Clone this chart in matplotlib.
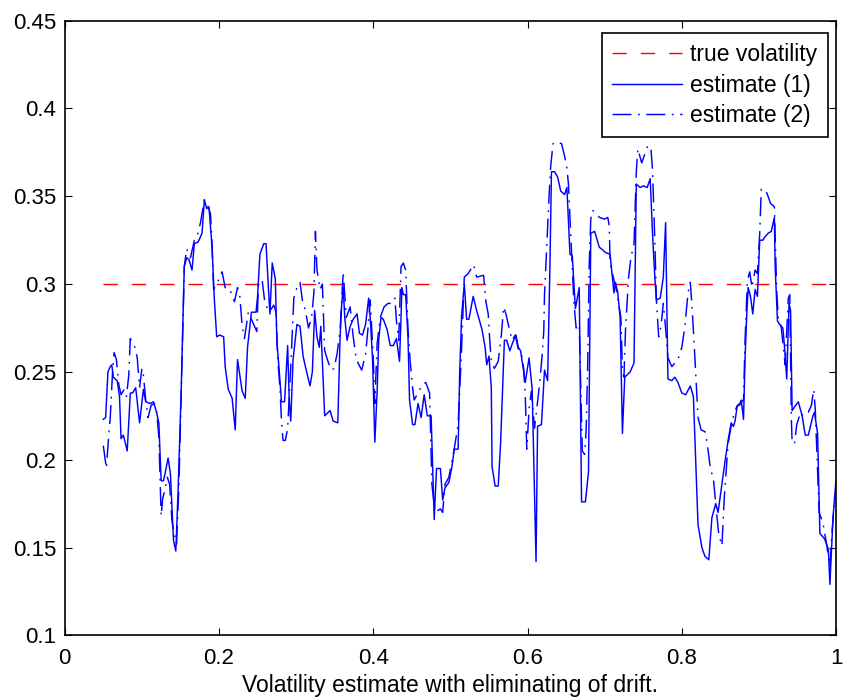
import matplotlib
matplotlib.use("Agg")
import matplotlib.pyplot as plt

# Volatility estimates over time (drift eliminated)
true_vol = 0.3
true_t = [0.05, 1.0]

t1 = [0.050, 0.053, 0.056, 0.059, 0.061, 0.063, 0.068, 0.071, 0.073, 0.076,
      0.081, 0.085, 0.088, 0.092, 0.097, 0.102, 0.105, 0.111, 0.115, 0.119,
      0.122, 0.125, 0.128, 0.130, 0.134, 0.137, 0.141, 0.144, 0.147, 0.151,
      0.155, 0.158, 0.161, 0.165, 0.168, 0.173, 0.178, 0.181, 0.184, 0.187,
      0.191, 0.194, 0.197, 0.201, 0.206, 0.208, 0.212, 0.217, 0.221, 0.224,
      0.230, 0.234, 0.237, 0.242, 0.248, 0.250, 0.253, 0.258, 0.261, 0.264,
      0.266, 0.269, 0.273, 0.275, 0.278, 0.281, 0.285, 0.289, 0.291, 0.293,
      0.296, 0.301, 0.305, 0.309, 0.312, 0.318, 0.321, 0.324, 0.327, 0.330,
      0.332, 0.337, 0.344, 0.348, 0.354, 0.357, 0.359, 0.361, 0.363, 0.366,
      0.370, 0.374, 0.379, 0.382, 0.386, 0.390, 0.394, 0.396, 0.399, 0.402,
      0.405, 0.407, 0.410, 0.413, 0.418, 0.422, 0.426, 0.430, 0.434, 0.436,
      0.437, 0.439, 0.442, 0.445, 0.447, 0.451, 0.454, 0.458, 0.462, 0.466,
      0.470, 0.475, 0.477, 0.479, 0.482, 0.487, 0.490, 0.493, 0.498, 0.502,
      0.505, 0.510, 0.512, 0.5145, 0.518, 0.521, 0.524, 0.5295, 0.534, 0.541,
      0.545, 0.547, 0.550, 0.553, 0.554, 0.558, 0.562, 0.565, 0.570, 0.573,
      0.577, 0.581, 0.585, 0.588, 0.591, 0.594, 0.597, 0.602, 0.606, 0.609,
      0.611, 0.613, 0.618, 0.622, 0.626, 0.629, 0.631, 0.635, 0.639, 0.643,
      0.648, 0.651, 0.655, 0.658, 0.662, 0.667, 0.670, 0.675, 0.679, 0.682,
      0.687, 0.693, 0.696, 0.701, 0.707, 0.710, 0.712, 0.714, 0.717, 0.720,
      0.723, 0.726, 0.733, 0.738, 0.741, 0.746, 0.750, 0.755, 0.759, 0.762,
      0.765, 0.767, 0.772, 0.776, 0.779, 0.782, 0.787, 0.791, 0.795, 0.800,
      0.805, 0.811, 0.815, 0.821, 0.826, 0.830, 0.835, 0.839, 0.844, 0.847,
      0.852, 0.856, 0.860, 0.864, 0.867, 0.869, 0.872, 0.875, 0.877, 0.880,
      0.882, 0.884, 0.886, 0.889, 0.892, 0.895, 0.898, 0.901, 0.905, 0.908,
      0.912, 0.916, 0.920, 0.921, 0.924, 0.927, 0.931, 0.933, 0.936, 0.939,
      0.941, 0.943, 0.946, 0.951, 0.956, 0.960, 0.964, 0.970, 0.972, 0.976,
      0.979, 0.985, 0.990, 0.992, 0.994, 0.996, 0.998, 1.000]
est1 = [0.223, 0.224, 0.250, 0.253, 0.254, 0.247, 0.245, 0.236, 0.212, 0.214,
        0.205, 0.238, 0.238, 0.241, 0.221, 0.240, 0.233, 0.232, 0.233, 0.227,
        0.221, 0.188, 0.188, 0.192, 0.201, 0.192, 0.154, 0.148, 0.183, 0.240,
        0.310, 0.315, 0.314, 0.308, 0.323, 0.324, 0.329, 0.348, 0.343, 0.344,
        0.321, 0.291, 0.270, 0.271, 0.270, 0.253, 0.240, 0.235, 0.217, 0.257,
        0.239, 0.235, 0.264, 0.284, 0.284, 0.293, 0.317, 0.323, 0.323, 0.298,
        0.283, 0.312, 0.303, 0.268, 0.251, 0.233, 0.233, 0.265, 0.234, 0.222,
        0.257, 0.277, 0.276, 0.259, 0.253, 0.242, 0.250, 0.285, 0.270, 0.264,
        0.276, 0.225, 0.228, 0.222, 0.221, 0.270, 0.288, 0.298, 0.281, 0.268,
        0.276, 0.280, 0.283, 0.272, 0.271, 0.277, 0.292, 0.281, 0.258, 0.210,
        0.239, 0.268, 0.281, 0.280, 0.274, 0.265, 0.265, 0.269, 0.256, 0.281,
        0.298, 0.294, 0.294, 0.270, 0.234, 0.220, 0.220, 0.232, 0.224, 0.237,
        0.225, 0.225, 0.196, 0.166, 0.195, 0.195, 0.177, 0.184, 0.187, 0.196,
        0.206, 0.206, 0.249, 0.282, 0.300, 0.280, 0.280, 0.293, 0.285, 0.274,
        0.264, 0.254, 0.259, 0.241, 0.196, 0.185, 0.185, 0.209, 0.268, 0.268,
        0.262, 0.267, 0.271, 0.264, 0.262, 0.253, 0.244, 0.258, 0.240, 0.180,
        0.142, 0.219, 0.220, 0.251, 0.245, 0.310, 0.364, 0.364, 0.361, 0.353,
        0.351, 0.355, 0.317, 0.316, 0.286, 0.298, 0.176, 0.176, 0.193, 0.329,
        0.330, 0.321, 0.320, 0.318, 0.317, 0.304, 0.295, 0.301, 0.295, 0.281,
        0.215, 0.247, 0.250, 0.255, 0.357, 0.355, 0.356, 0.355, 0.360, 0.329,
        0.304, 0.291, 0.292, 0.304, 0.335, 0.246, 0.245, 0.247, 0.244, 0.238,
        0.237, 0.242, 0.236, 0.163, 0.150, 0.145, 0.143, 0.167, 0.175, 0.170,
        0.186, 0.199, 0.211, 0.221, 0.219, 0.222, 0.231, 0.231, 0.234, 0.223,
        0.258, 0.281, 0.298, 0.293, 0.283, 0.297, 0.293, 0.325, 0.325, 0.327,
        0.329, 0.330, 0.338, 0.310, 0.279, 0.277, 0.275, 0.265, 0.246, 0.289,
        0.285, 0.228, 0.230, 0.233, 0.225, 0.214, 0.214, 0.225, 0.227, 0.215,
        0.158, 0.155, 0.149, 0.129, 0.148, 0.167, 0.178, 0.178]

t2 = [0.050, 0.054, 0.057, 0.059, 0.062, 0.064, 0.067, 0.070, 0.073, 0.077,
      0.080, 0.083, 0.085, 0.088, 0.091, 0.094, 0.097, 0.100, 0.102, 0.105,
      0.108, 0.112, 0.116, 0.119, 0.122, 0.125, 0.127, 0.130, 0.133, 0.136,
      0.139, 0.142, 0.145, 0.148, 0.152, 0.155, 0.158, 0.163, 0.168, 0.172,
      0.176, 0.181, 0.185, 0.189, 0.191, 0.193, 0.199, 0.204, 0.208, 0.211,
      0.214, 0.220, 0.224, 0.227, 0.230, 0.233, 0.238, 0.243, 0.249, 0.251,
      0.256, 0.259, 0.264, 0.268, 0.271, 0.274, 0.276, 0.279, 0.281, 0.283,
      0.286, 0.289, 0.291, 0.293, 0.297, 0.301, 0.305, 0.308, 0.312, 0.316,
      0.320, 0.323, 0.325, 0.327, 0.331, 0.334, 0.337, 0.342, 0.346, 0.349,
      0.353, 0.357, 0.361, 0.365, 0.370, 0.374, 0.378, 0.385, 0.390, 0.393,
      0.396, 0.400, 0.402, 0.405, 0.409, 0.414, 0.419, 0.425, 0.428, 0.430,
      0.433, 0.436, 0.439, 0.442, 0.445, 0.448, 0.451, 0.453, 0.458, 0.464,
      0.468, 0.473, 0.476, 0.480, 0.487, 0.490, 0.493, 0.498, 0.502, 0.506,
      0.510, 0.514, 0.518, 0.523, 0.530, 0.534, 0.543, 0.546, 0.549, 0.551,
      0.553, 0.557, 0.562, 0.566, 0.569, 0.572, 0.575, 0.580, 0.584, 0.588,
      0.592, 0.595, 0.597, 0.599, 0.602, 0.605, 0.609, 0.613, 0.616, 0.619,
      0.621, 0.622, 0.624, 0.626, 0.628, 0.630, 0.633, 0.638, 0.644, 0.648,
      0.651, 0.653, 0.657, 0.660, 0.663, 0.667, 0.671, 0.674, 0.676, 0.678,
      0.680, 0.682, 0.684, 0.688, 0.693, 0.700, 0.704, 0.706, 0.707, 0.710,
      0.715, 0.721, 0.723, 0.725, 0.727, 0.730, 0.731, 0.734, 0.738, 0.741,
      0.743, 0.748, 0.752, 0.756, 0.760, 0.762, 0.765, 0.767, 0.770, 0.773,
      0.776, 0.778, 0.782, 0.787, 0.791, 0.795, 0.800, 0.804, 0.808, 0.811,
      0.813, 0.816, 0.819, 0.821, 0.825, 0.830, 0.833, 0.837, 0.841, 0.845,
      0.848, 0.852, 0.855, 0.860, 0.865, 0.871, 0.875, 0.880, 0.882, 0.885,
      0.888, 0.891, 0.895, 0.898, 0.901, 0.902, 0.903, 0.908, 0.911, 0.915,
      0.920, 0.923, 0.925, 0.929, 0.934, 0.938, 0.940, 0.942, 0.943, 0.946,
      0.949, 0.954, 0.957, 0.964, 0.968, 0.971, 0.973, 0.978, 0.983, 0.988,
      0.992, 0.994, 0.998, 1.000]
est2 = [0.208, 0.195, 0.214, 0.224, 0.250, 0.261, 0.257, 0.243, 0.237, 0.240,
        0.236, 0.248, 0.269, 0.266, 0.264, 0.258, 0.241, 0.252, 0.248, 0.234,
        0.224, 0.231, 0.232, 0.228, 0.213, 0.168, 0.178, 0.183, 0.190, 0.186,
        0.165, 0.158, 0.152, 0.185, 0.255, 0.310, 0.320, 0.315, 0.325, 0.328,
        0.335, 0.348, 0.345, 0.340, 0.322, 0.297, 0.302, 0.307, 0.298, 0.298,
        0.297, 0.290, 0.298, 0.293, 0.276, 0.269, 0.284, 0.279, 0.273, 0.299,
        0.302, 0.291, 0.284, 0.286, 0.288, 0.284, 0.258, 0.241, 0.222, 0.211,
        0.211, 0.218, 0.236, 0.253, 0.292, 0.298, 0.301, 0.291, 0.285, 0.275,
        0.281, 0.295, 0.330, 0.308, 0.297, 0.300, 0.262, 0.255, 0.251, 0.252,
        0.260, 0.274, 0.307, 0.281, 0.287, 0.270, 0.257, 0.251, 0.260, 0.274,
        0.291, 0.258, 0.232, 0.266, 0.281, 0.287, 0.289, 0.289, 0.292, 0.279,
        0.268, 0.310, 0.312, 0.308, 0.274, 0.255, 0.241, 0.234, 0.238, 0.243,
        0.244, 0.238, 0.186, 0.170, 0.172, 0.170, 0.186, 0.190, 0.199, 0.209,
        0.220, 0.258, 0.304, 0.306, 0.311, 0.304, 0.305, 0.290, 0.283, 0.268,
        0.256, 0.252, 0.256, 0.271, 0.287, 0.283, 0.277, 0.268, 0.271, 0.263,
        0.260, 0.252, 0.237, 0.206, 0.229, 0.239, 0.218, 0.233, 0.245, 0.260,
        0.273, 0.294, 0.313, 0.332, 0.351, 0.367, 0.380, 0.381, 0.380, 0.373,
        0.366, 0.357, 0.319, 0.290, 0.275, 0.277, 0.205, 0.203, 0.217, 0.255,
        0.312, 0.337, 0.342, 0.341, 0.338, 0.337, 0.338, 0.333, 0.312, 0.306,
        0.297, 0.281, 0.251, 0.247, 0.274, 0.297, 0.304, 0.315, 0.323, 0.364,
        0.377, 0.369, 0.374, 0.379, 0.377, 0.365, 0.325, 0.291, 0.270, 0.276,
        0.289, 0.280, 0.258, 0.253, 0.255, 0.257, 0.264, 0.276, 0.295, 0.301,
        0.289, 0.266, 0.241, 0.224, 0.217, 0.216, 0.209, 0.195, 0.189, 0.170,
        0.157, 0.151, 0.178, 0.209, 0.222, 0.230, 0.232, 0.234, 0.268, 0.302,
        0.307, 0.298, 0.308, 0.306, 0.329, 0.342, 0.354, 0.354, 0.351, 0.346,
        0.344, 0.296, 0.281, 0.275, 0.254, 0.292, 0.294, 0.223, 0.210, 0.209,
        0.220, 0.227, 0.225, 0.227, 0.231, 0.240, 0.229, 0.170, 0.164, 0.151,
        0.139, 0.154, 0.178, 0.189]

x_ticks = [0, 0.2, 0.4, 0.6, 0.8, 1.0]
x_ticklabels = ["0", "0.2", "0.4", "0.6", "0.8", "1"]
y_ticks = [0.1, 0.15, 0.2, 0.25, 0.3, 0.35, 0.4, 0.45]
y_ticklabels = ["0.1", "0.15", "0.2", "0.25", "0.3", "0.35", "0.4", "0.45"]

plt.rcParams["font.family"] = ["Liberation Sans", "DejaVu Sans"]

fig = plt.figure(figsize=(8.43, 6.99), dpi=100)
ax = fig.add_axes([0.0768, 0.0911, 0.915, 0.8793])

ax.plot(true_t, [true_vol, true_vol], color="#ff0000", lw=1.0,
        dashes=(10.3, 10.1), label="true volatility")
ax.plot(t1, est1, color="#0000ff", lw=1.05, label="estimate (1)")
ax.plot(t2, est2, color="#0000ff", lw=1.05,
        dashes=(13.0, 4.5, 1.2, 4.5), label="estimate (2)")

ax.set_xlim(0, 1)
ax.set_ylim(0.1, 0.45)
ax.set_xticks(x_ticks)
ax.set_xticklabels(x_ticklabels)
ax.set_yticks(y_ticks)
ax.set_yticklabels(y_ticklabels)
ax.tick_params(direction="in", length=5, width=0.8, top=True, right=True,
               labelsize=16)
ax.tick_params(axis="y", pad=6)
ax.tick_params(axis="x", pad=9)
for s in ax.spines.values():
    s.set_linewidth(1.2)

ax.set_xlabel("Volatility estimate with eliminating of drift.", fontsize=16.5,
              labelpad=4)

leg = ax.legend(loc="upper right", bbox_to_anchor=(0.9892, 0.9805),
                borderaxespad=0, fontsize=16.5, fancybox=False,
                edgecolor="black", framealpha=1, handlelength=3.05,
                handletextpad=0.35, labelspacing=0.33, borderpad=0.45)
leg.get_frame().set_linewidth(1.2)

fig.savefig("out.png", dpi=100)
